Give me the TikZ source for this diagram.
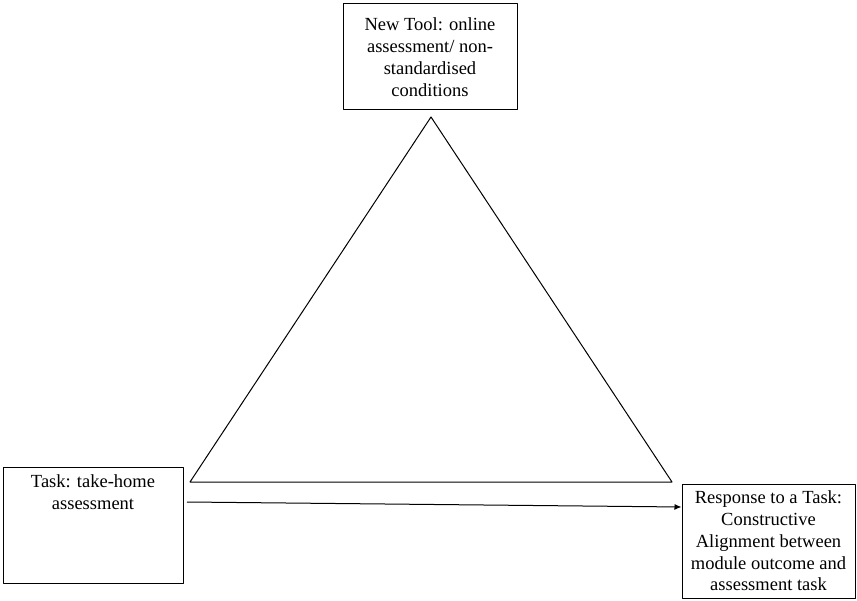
\documentclass[tikz,border=0pt]{standalone}
\usepackage{fontspec}
\setmainfont{Liberation Serif}
\usetikzlibrary{positioning,arrows.meta}
\tikzset{
  box/.style={draw, line width=1pt, inner sep=0pt},
  txt/.style={align=center, inner sep=0pt, font=\fontsize{18.5}{21.8}\selectfont},
}
\begin{document}
\begin{tikzpicture}[x=1pt, y=-1pt, line join=round, >={Latex[length=7pt,width=6pt]}]
  \useasboundingbox (0,0) rectangle (857,601);
  % boxes
  \node[box, txt, minimum width=174, minimum height=106] (tool) at (430,57)
    {New Tool: online\\assessment/ non-\\standardised\\conditions};
  \node[box, minimum width=180, minimum height=116] (task) at (93,525) {};
  \node[txt, below=8pt of task.north] (tasktxt) {Task: take-home\\assessment};
  \node[box, txt, minimum width=173, minimum height=114] (resp) at (768.5,541)
    {Response to a Task:\\Constructive\\Alignment between\\module outcome and\\assessment task};
  % triangle
  \coordinate (top) at (431,117);
  \coordinate (bl) at (190,482);
  \coordinate (br) at (672,482);
  \draw[line width=1pt] (top) -- (bl) -- (br) -- cycle;
  % arrow
  \coordinate (from) at (187,502);
  \draw[->, line width=1pt] (from) -- (resp.west |- 0,507);
\end{tikzpicture}
\end{document}
